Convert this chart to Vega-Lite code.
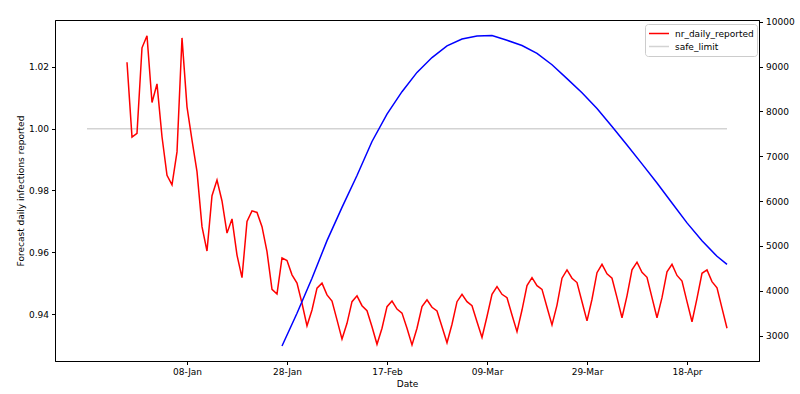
{
  "$schema": "https://vega.github.io/schema/vega-lite/v6.json",
  "width": 704,
  "height": 341,
  "autosize": {"type": "none"},
  "padding": {"left": 55, "top": 20, "right": 41, "bottom": 33},
  "background": "white",
  "config": {
    "view": {"stroke": "#000", "strokeWidth": 1},
    "font": "DejaVu Sans",
    "axis": {
      "labelFont": "DejaVu Sans", "labelFontSize": 9, "labelColor": "#000",
      "titleFont": "DejaVu Sans", "titleFontSize": 9, "titleFontWeight": "normal", "titleColor": "#000",
      "domainColor": "#000", "tickColor": "#000", "tickSize": 3.5, "grid": false, "labelPadding": 3
    },
    "legend": {"labelFont": "DejaVu Sans", "labelFontSize": 9, "labelColor": "#000"}
  },
  "datasets": {
    "left": [
      {"date": "2020-12-19", "series": "safe_limit", "value": 1.0},
      {"date": "2021-04-26", "series": "safe_limit", "value": 1.0},
      {"date": "2020-12-27", "series": "nr_daily_reported", "value": 1.0215},
      {"date": "2020-12-28", "series": "nr_daily_reported", "value": 0.9973},
      {"date": "2020-12-29", "series": "nr_daily_reported", "value": 0.9985},
      {"date": "2020-12-30", "series": "nr_daily_reported", "value": 1.0262},
      {"date": "2020-12-31", "series": "nr_daily_reported", "value": 1.0301},
      {"date": "2021-01-01", "series": "nr_daily_reported", "value": 1.0085},
      {"date": "2021-01-02", "series": "nr_daily_reported", "value": 1.0145},
      {"date": "2021-01-03", "series": "nr_daily_reported", "value": 0.9974},
      {"date": "2021-01-04", "series": "nr_daily_reported", "value": 0.9849},
      {"date": "2021-01-05", "series": "nr_daily_reported", "value": 0.9818},
      {"date": "2021-01-06", "series": "nr_daily_reported", "value": 0.9925},
      {"date": "2021-01-07", "series": "nr_daily_reported", "value": 1.0294},
      {"date": "2021-01-08", "series": "nr_daily_reported", "value": 1.0071},
      {"date": "2021-01-09", "series": "nr_daily_reported", "value": 0.9963},
      {"date": "2021-01-10", "series": "nr_daily_reported", "value": 0.9861},
      {"date": "2021-01-11", "series": "nr_daily_reported", "value": 0.9683},
      {"date": "2021-01-12", "series": "nr_daily_reported", "value": 0.9604},
      {"date": "2021-01-13", "series": "nr_daily_reported", "value": 0.9783},
      {"date": "2021-01-14", "series": "nr_daily_reported", "value": 0.9834},
      {"date": "2021-01-15", "series": "nr_daily_reported", "value": 0.9766},
      {"date": "2021-01-16", "series": "nr_daily_reported", "value": 0.9662},
      {"date": "2021-01-17", "series": "nr_daily_reported", "value": 0.9708},
      {"date": "2021-01-18", "series": "nr_daily_reported", "value": 0.9591},
      {"date": "2021-01-19", "series": "nr_daily_reported", "value": 0.9518},
      {"date": "2021-01-20", "series": "nr_daily_reported", "value": 0.9700},
      {"date": "2021-01-21", "series": "nr_daily_reported", "value": 0.9734},
      {"date": "2021-01-22", "series": "nr_daily_reported", "value": 0.9729},
      {"date": "2021-01-23", "series": "nr_daily_reported", "value": 0.9683},
      {"date": "2021-01-24", "series": "nr_daily_reported", "value": 0.9602},
      {"date": "2021-01-25", "series": "nr_daily_reported", "value": 0.9480},
      {"date": "2021-01-26", "series": "nr_daily_reported", "value": 0.9465},
      {"date": "2021-01-27", "series": "nr_daily_reported", "value": 0.9582},
      {"date": "2021-01-28", "series": "nr_daily_reported", "value": 0.9573},
      {"date": "2021-01-29", "series": "nr_daily_reported", "value": 0.9527},
      {"date": "2021-01-30", "series": "nr_daily_reported", "value": 0.9500},
      {"date": "2021-01-31", "series": "nr_daily_reported", "value": 0.9435},
      {"date": "2021-02-01", "series": "nr_daily_reported", "value": 0.9362},
      {"date": "2021-02-02", "series": "nr_daily_reported", "value": 0.9413},
      {"date": "2021-02-03", "series": "nr_daily_reported", "value": 0.9484},
      {"date": "2021-02-04", "series": "nr_daily_reported", "value": 0.9500},
      {"date": "2021-02-05", "series": "nr_daily_reported", "value": 0.9462},
      {"date": "2021-02-06", "series": "nr_daily_reported", "value": 0.9442},
      {"date": "2021-02-07", "series": "nr_daily_reported", "value": 0.9381},
      {"date": "2021-02-08", "series": "nr_daily_reported", "value": 0.9319},
      {"date": "2021-02-09", "series": "nr_daily_reported", "value": 0.9370},
      {"date": "2021-02-10", "series": "nr_daily_reported", "value": 0.9440},
      {"date": "2021-02-11", "series": "nr_daily_reported", "value": 0.9459},
      {"date": "2021-02-12", "series": "nr_daily_reported", "value": 0.9427},
      {"date": "2021-02-13", "series": "nr_daily_reported", "value": 0.9411},
      {"date": "2021-02-14", "series": "nr_daily_reported", "value": 0.9359},
      {"date": "2021-02-15", "series": "nr_daily_reported", "value": 0.9302},
      {"date": "2021-02-16", "series": "nr_daily_reported", "value": 0.9354},
      {"date": "2021-02-17", "series": "nr_daily_reported", "value": 0.9424},
      {"date": "2021-02-18", "series": "nr_daily_reported", "value": 0.9442},
      {"date": "2021-02-19", "series": "nr_daily_reported", "value": 0.9416},
      {"date": "2021-02-20", "series": "nr_daily_reported", "value": 0.9403},
      {"date": "2021-02-21", "series": "nr_daily_reported", "value": 0.9354},
      {"date": "2021-02-22", "series": "nr_daily_reported", "value": 0.9300},
      {"date": "2021-02-23", "series": "nr_daily_reported", "value": 0.9354},
      {"date": "2021-02-24", "series": "nr_daily_reported", "value": 0.9424},
      {"date": "2021-02-25", "series": "nr_daily_reported", "value": 0.9446},
      {"date": "2021-02-26", "series": "nr_daily_reported", "value": 0.9422},
      {"date": "2021-02-27", "series": "nr_daily_reported", "value": 0.9410},
      {"date": "2021-02-28", "series": "nr_daily_reported", "value": 0.9359},
      {"date": "2021-03-01", "series": "nr_daily_reported", "value": 0.9307},
      {"date": "2021-03-02", "series": "nr_daily_reported", "value": 0.9367},
      {"date": "2021-03-03", "series": "nr_daily_reported", "value": 0.9440},
      {"date": "2021-03-04", "series": "nr_daily_reported", "value": 0.9464},
      {"date": "2021-03-05", "series": "nr_daily_reported", "value": 0.9440},
      {"date": "2021-03-06", "series": "nr_daily_reported", "value": 0.9427},
      {"date": "2021-03-07", "series": "nr_daily_reported", "value": 0.9375},
      {"date": "2021-03-08", "series": "nr_daily_reported", "value": 0.9324},
      {"date": "2021-03-09", "series": "nr_daily_reported", "value": 0.9392},
      {"date": "2021-03-10", "series": "nr_daily_reported", "value": 0.9464},
      {"date": "2021-03-11", "series": "nr_daily_reported", "value": 0.9489},
      {"date": "2021-03-12", "series": "nr_daily_reported", "value": 0.9464},
      {"date": "2021-03-13", "series": "nr_daily_reported", "value": 0.9453},
      {"date": "2021-03-14", "series": "nr_daily_reported", "value": 0.9397},
      {"date": "2021-03-15", "series": "nr_daily_reported", "value": 0.9343},
      {"date": "2021-03-16", "series": "nr_daily_reported", "value": 0.9413},
      {"date": "2021-03-17", "series": "nr_daily_reported", "value": 0.9492},
      {"date": "2021-03-18", "series": "nr_daily_reported", "value": 0.9518},
      {"date": "2021-03-19", "series": "nr_daily_reported", "value": 0.9492},
      {"date": "2021-03-20", "series": "nr_daily_reported", "value": 0.9480},
      {"date": "2021-03-21", "series": "nr_daily_reported", "value": 0.9422},
      {"date": "2021-03-22", "series": "nr_daily_reported", "value": 0.9365},
      {"date": "2021-03-23", "series": "nr_daily_reported", "value": 0.9429},
      {"date": "2021-03-24", "series": "nr_daily_reported", "value": 0.9516},
      {"date": "2021-03-25", "series": "nr_daily_reported", "value": 0.9543},
      {"date": "2021-03-26", "series": "nr_daily_reported", "value": 0.9516},
      {"date": "2021-03-27", "series": "nr_daily_reported", "value": 0.9502},
      {"date": "2021-03-28", "series": "nr_daily_reported", "value": 0.9440},
      {"date": "2021-03-29", "series": "nr_daily_reported", "value": 0.9378},
      {"date": "2021-03-30", "series": "nr_daily_reported", "value": 0.9448},
      {"date": "2021-03-31", "series": "nr_daily_reported", "value": 0.9534},
      {"date": "2021-04-01", "series": "nr_daily_reported", "value": 0.9561},
      {"date": "2021-04-02", "series": "nr_daily_reported", "value": 0.9530},
      {"date": "2021-04-03", "series": "nr_daily_reported", "value": 0.9516},
      {"date": "2021-04-04", "series": "nr_daily_reported", "value": 0.9453},
      {"date": "2021-04-05", "series": "nr_daily_reported", "value": 0.9388},
      {"date": "2021-04-06", "series": "nr_daily_reported", "value": 0.9459},
      {"date": "2021-04-07", "series": "nr_daily_reported", "value": 0.9543},
      {"date": "2021-04-08", "series": "nr_daily_reported", "value": 0.9568},
      {"date": "2021-04-09", "series": "nr_daily_reported", "value": 0.9535},
      {"date": "2021-04-10", "series": "nr_daily_reported", "value": 0.9519},
      {"date": "2021-04-11", "series": "nr_daily_reported", "value": 0.9453},
      {"date": "2021-04-12", "series": "nr_daily_reported", "value": 0.9388},
      {"date": "2021-04-13", "series": "nr_daily_reported", "value": 0.9453},
      {"date": "2021-04-14", "series": "nr_daily_reported", "value": 0.9537},
      {"date": "2021-04-15", "series": "nr_daily_reported", "value": 0.9561},
      {"date": "2021-04-16", "series": "nr_daily_reported", "value": 0.9525},
      {"date": "2021-04-17", "series": "nr_daily_reported", "value": 0.9507},
      {"date": "2021-04-18", "series": "nr_daily_reported", "value": 0.9440},
      {"date": "2021-04-19", "series": "nr_daily_reported", "value": 0.9375},
      {"date": "2021-04-20", "series": "nr_daily_reported", "value": 0.9451},
      {"date": "2021-04-21", "series": "nr_daily_reported", "value": 0.9532},
      {"date": "2021-04-22", "series": "nr_daily_reported", "value": 0.9543},
      {"date": "2021-04-23", "series": "nr_daily_reported", "value": 0.9505},
      {"date": "2021-04-24", "series": "nr_daily_reported", "value": 0.9485},
      {"date": "2021-04-25", "series": "nr_daily_reported", "value": 0.9419},
      {"date": "2021-04-26", "series": "nr_daily_reported", "value": 0.9354}
    ],
    "right": [
      {"date": "2021-01-27", "value": 2770},
      {"date": "2021-01-30", "value": 3500},
      {"date": "2021-02-02", "value": 4280},
      {"date": "2021-02-05", "value": 5120},
      {"date": "2021-02-08", "value": 5860},
      {"date": "2021-02-11", "value": 6570},
      {"date": "2021-02-14", "value": 7330},
      {"date": "2021-02-17", "value": 7940},
      {"date": "2021-02-20", "value": 8440},
      {"date": "2021-02-23", "value": 8870},
      {"date": "2021-02-26", "value": 9200},
      {"date": "2021-03-01", "value": 9460},
      {"date": "2021-03-04", "value": 9615},
      {"date": "2021-03-07", "value": 9680},
      {"date": "2021-03-10", "value": 9690},
      {"date": "2021-03-13", "value": 9585},
      {"date": "2021-03-16", "value": 9470},
      {"date": "2021-03-19", "value": 9295},
      {"date": "2021-03-22", "value": 9040},
      {"date": "2021-03-25", "value": 8730},
      {"date": "2021-03-28", "value": 8415},
      {"date": "2021-03-31", "value": 8065},
      {"date": "2021-04-03", "value": 7665},
      {"date": "2021-04-06", "value": 7250},
      {"date": "2021-04-09", "value": 6830},
      {"date": "2021-04-12", "value": 6405},
      {"date": "2021-04-15", "value": 5960},
      {"date": "2021-04-18", "value": 5515},
      {"date": "2021-04-21", "value": 5115},
      {"date": "2021-04-24", "value": 4770},
      {"date": "2021-04-26", "value": 4590}
    ]
  },
  "encoding": {
    "x": {
      "field": "date", "type": "temporal", "title": "Date",
      "scale": {
        "type": "utc",
        "domain": [
          {"year": 2020, "month": 12, "date": 12, "hours": 14, "minutes": 24, "utc": true},
          {"year": 2021, "month": 5, "date": 2, "hours": 9, "minutes": 36, "utc": true}
        ]
      },
      "axis": {
        "format": "%d-%b",
        "values": [
          {"year": 2021, "month": 1, "date": 8, "utc": true},
          {"year": 2021, "month": 1, "date": 28, "utc": true},
          {"year": 2021, "month": 2, "date": 17, "utc": true},
          {"year": 2021, "month": 3, "date": 9, "utc": true},
          {"year": 2021, "month": 3, "date": 29, "utc": true},
          {"year": 2021, "month": 4, "date": 18, "utc": true}
        ],
        "labelFlush": false, "titlePadding": 3
      }
    }
  },
  "layer": [
    {
      "data": {"name": "left"},
      "mark": {"type": "line", "strokeWidth": 1.5, "clip": true},
      "encoding": {
        "y": {
          "field": "value", "type": "quantitative",
          "title": "Forecast daily infections reported",
          "scale": {"domain": [0.9248, 1.0352], "nice": false, "zero": false},
          "axis": {"values": [0.94, 0.96, 0.98, 1.0, 1.02], "format": ".2f", "titlePadding": 3}
        },
        "color": {
          "field": "series", "type": "nominal",
          "scale": {"domain": ["nr_daily_reported", "safe_limit"], "range": ["#ff0000", "#d3d3d3"]},
          "legend": {
            "title": null, "orient": "none", "legendX": 590, "legendY": 4,
            "symbolType": "stroke", "symbolSize": 400, "symbolStrokeWidth": 1.5,
            "clipHeight": 13,
            "fillColor": "rgba(255,255,255,0.8)", "strokeColor": "#cccccc", "cornerRadius": 3,
            "padding": 3, "rowPadding": 0, "labelOffset": 5
          }
        },
        "order": {"field": "series", "sort": "descending"}
      }
    },
    {
      "data": {"name": "right"},
      "mark": {"type": "line", "strokeWidth": 1.5, "color": "#0000ff", "clip": true},
      "encoding": {
        "y": {
          "field": "value", "type": "quantitative",
          "scale": {"domain": [2436, 10038], "nice": false, "zero": false},
          "axis": {"orient": "right", "title": null, "values": [3000, 4000, 5000, 6000, 7000, 8000, 9000, 10000], "format": "d"}
        }
      }
    }
  ],
  "resolve": {"scale": {"y": "independent"}}
}
